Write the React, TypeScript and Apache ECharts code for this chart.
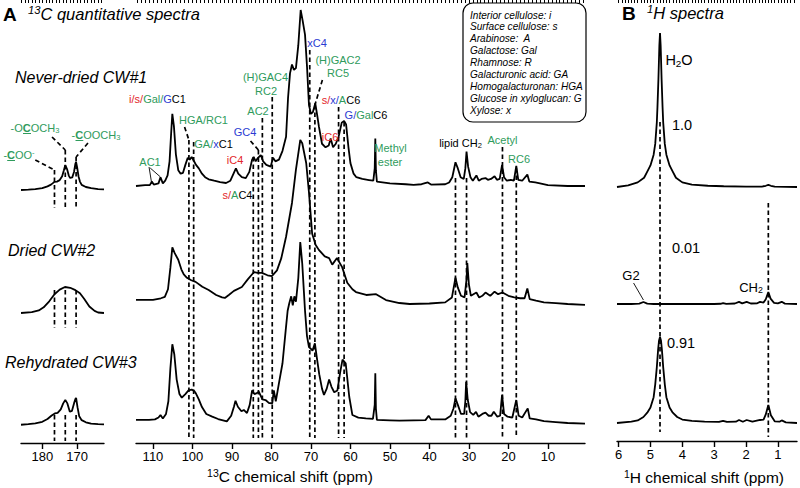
import React, { useEffect, useRef } from "react";
import * as echarts from "echarts";

// ---------------- data: [ppm, relative intensity %] ----------------
const neverDried13C = [
  [114.3, 0], [112, 0.5], [110.8, 0.5], [110.3, 2.5], [109.8, 0.8], [108.6, 1.5], [108.1, 5], [107.5, 1.5], [106.9, 3],
  [106.3, 6], [105.8, 14], [105.4, 30], [105.1, 41], [104.7, 34], [104.2, 18], [103.6, 9], [103, 7], [102.4, 7.5],
  [101.8, 12], [101.2, 16], [100.7, 15], [100.2, 16.5], [99.7, 14.5], [99.1, 12], [98.4, 10], [97.6, 7], [96.8, 5],
  [95.9, 3.8], [94.5, 3], [93, 2.2], [91.5, 1.7], [90.4, 3], [89.6, 7], [89, 10], [88.4, 7], [87.5, 5], [86.5, 4.5],
  [85.6, 8], [84.9, 15], [84.5, 16.5], [84, 14], [83.4, 16], [82.7, 17.6], [82.1, 14], [81.3, 12], [80.2, 11],
  [79.6, 16], [79, 14], [78.1, 15], [77.2, 20], [76.3, 28], [75.8, 50], [75.3, 64], [74.8, 69], [74.3, 66],
  [73.8, 67], [73.2, 80], [72.6, 100], [72.1, 94], [71.5, 86], [71, 68], [70.5, 46], [70, 41], [69.5, 42],
  [68.9, 47], [68.4, 40], [68, 34], [67.2, 24], [66.3, 22], [65.5, 23], [65, 27], [64.4, 22], [63.7, 24], [63, 28],
  [62.2, 36], [61.6, 37], [61.1, 35], [60.5, 22], [60, 13], [59.2, 7], [58.5, 5], [57, 4], [55.3, 3.4], [54.2, 3],
  [53.85, 10], [53.7, 27], [53.55, 9], [53.3, 2.5], [50, 1.5], [46, 1], [44, 0.6], [42, 1], [40.4, 2], [39.6, 0.8],
  [36, 1], [35, 2], [34.2, 5], [33.4, 13.5], [32.8, 10], [32.1, 5], [31.3, 4], [30.9, 10], [30.6, 19.5], [30.2, 11],
  [29.6, 5], [29, 3], [28.1, 6], [27.5, 3], [26.8, 4], [25.8, 4.5], [25.2, 3.5], [24.4, 4], [23.5, 5.5], [22.9, 3.5],
  [22.2, 4], [21.6, 12], [21.1, 5], [20.4, 3], [19.4, 3.5], [18.6, 3], [18, 11.4], [17.5, 3.5], [16.5, 3],
  [15.2, 6.5], [14.7, 2.5], [13.2, 2], [12, 1.5], [10, 0.5], [5, 0], [0.6, 0],
];
const dried13C = [
  [114.3, 2.5], [110, 2.5], [108, 3.5], [107, 4.3], [106.2, 9], [105.6, 22], [105.1, 34.5], [104.5, 31], [103.6, 27],
  [102.8, 21], [102.2, 18], [101.4, 16], [100.3, 14.5], [99.2, 13.5], [97.5, 10.5], [95.9, 8.5], [94, 5.5],
  [92.5, 4], [91.8, 3.7], [90.8, 5.5], [89.5, 8], [87.5, 10.4], [86, 15], [84.4, 19.5], [83.5, 19], [82.4, 19],
  [81, 17.5], [79.9, 17], [78.6, 20.5], [77.5, 28], [76.3, 41], [74.8, 61.6], [73.8, 82], [73, 95], [72.7, 100],
  [72.2, 98], [71.2, 86], [70.5, 68], [69.7, 43], [68.8, 36], [68, 33], [66.5, 29], [65.4, 28], [64.6, 24],
  [63.4, 28], [62.1, 22.5], [60.8, 13], [59.5, 9], [58.6, 7.3], [56, 5.5], [53.5, 6], [51, 2.4], [47.6, 0.6],
  [45, 0], [40, 0.3], [36, 1], [34.3, 4], [33.4, 16], [32.8, 10], [32, 5], [31.1, 4], [30.6, 15], [30.4, 25],
  [30, 12], [29.5, 5], [28.1, 7], [27.4, 4], [26.6, 5], [25.8, 7], [24.6, 5], [23.5, 7.5], [22.6, 6], [21.5, 7],
  [20, 5], [18.5, 4], [17, 3.5], [15.9, 3.5], [15.2, 9.5], [14.6, 3], [13, 2], [11, 1], [8, 0.5], [5, 0], [0.6, -0.5],
];
const rehydrated13C = [
  [114.3, 1.7], [111, 1.7], [109.5, 2], [108.6, 3], [108.1, 4.4], [107.5, 2.5], [106.7, 5], [106.1, 12], [105.6, 30],
  [105.1, 43.5], [104.6, 38], [104, 24], [103.3, 16], [102.7, 14], [101.8, 16], [101, 18], [100.2, 18.5],
  [99.5, 17.5], [99.2, 16.6], [98.4, 13], [97.6, 8.8], [96.5, 5], [95, 3.5], [93.5, 2.2], [91.3, 0.9], [90.2, 4],
  [89.5, 9], [89.1, 12.3], [88.5, 9], [87.6, 6.5], [87, 7.2], [86.2, 5.5], [85.5, 10], [84.9, 18], [84.3, 16],
  [83.7, 16.5], [83.2, 17.3], [82.3, 13], [81.5, 12.7], [80.6, 11], [79.8, 10.9], [79.4, 18], [78.9, 12],
  [78.1, 22], [77.2, 33], [76.4, 51], [75.9, 62], [75.5, 66], [75, 70], [74.6, 65], [74.2, 70], [73.8, 67],
  [73.2, 80], [72.7, 100], [72.2, 88], [71.5, 62], [71, 48], [70.5, 42], [70, 41], [69.6, 40], [69, 44],
  [68.5, 36], [67.9, 27], [67.2, 19], [66.7, 15.5], [66, 19], [65.4, 24], [64.8, 20], [64.1, 17], [63.3, 18],
  [62.6, 28], [62, 35], [61.2, 33], [60.3, 14.5], [59.5, 4.4], [58, 3], [56.1, 2.6], [54.3, 2.3], [53.85, 10],
  [53.7, 27.5], [53.55, 8], [53.3, 1.7], [50, 1.5], [47.6, 1.3], [44, 1.5], [41, 1.6], [40.2, 4], [39.6, 2],
  [36, 2], [34.6, 4], [33.9, 8], [33.4, 13.6], [32.8, 10], [32, 5], [31.2, 5], [30.9, 12], [30.7, 22.8],
  [30.3, 13], [29.7, 6], [28.9, 4.5], [28.2, 6.2], [27.6, 3.5], [26.6, 5], [25.8, 5.7], [25, 4], [24.3, 4],
  [23.7, 6.2], [22.8, 3.5], [22.1, 4], [21.6, 15.5], [21.1, 5], [20.2, 3.5], [19, 3], [18, 12.7], [17.4, 4],
  [16.5, 3], [15.1, 8.1], [14.6, 2.5], [13, 2], [11, 1], [8, 0.5], [5, 0], [0.6, -0.3],
];
const neverDriedCOO = [
  [186.1, 0], [184, 1], [182, 3], [180, 6], [178.5, 12], [177.5, 18], [176.5, 27], [175.8, 28], [175, 33],
  [174.3, 46], [173.8, 66], [173.4, 83], [172.9, 70], [172.4, 48], [172, 40], [171.4, 42], [170.9, 60],
  [170.5, 88], [170.3, 93], [170, 75], [169.6, 45], [169.2, 28], [168.7, 17], [167.5, 10], [166, 6], [164, 3],
  [162.3, 2],
];
const driedCOO = [
  [186.1, 0], [183, 3], [181, 10], [179.6, 22], [178, 45], [176.5, 72], [175, 90], [173.5, 100], [172, 97],
  [170.5, 88], [169.2, 76], [168, 55], [166.5, 25], [165, 8], [164, 2], [162.3, 0],
];
const rehydratedCOO = [
  [186.1, 1], [184, 3], [182, 6], [180, 12], [178.5, 22], [177.3, 35], [176.4, 43], [175.6, 45], [174.7, 58],
  [174, 80], [173.4, 93], [172.8, 80], [172.1, 49], [171.5, 52], [170.9, 80], [170.5, 96], [170.3, 100],
  [169.9, 66], [169.4, 32], [168.7, 18], [167.5, 10], [166, 5], [164, 3], [162.3, 2],
];
const neverDried1H = [
  [6.05, 0], [5.7, 1], [5.4, 3], [5.2, 6], [5.1, 10], [5.0, 14], [4.9, 21], [4.85, 28], [4.8, 42], [4.78, 52],
  [4.75, 70], [4.72, 92], [4.7, 100], [4.68, 92], [4.65, 70], [4.62, 52], [4.6, 42], [4.55, 28], [4.5, 21],
  [4.4, 14], [4.3, 10], [4.2, 6], [4.0, 3], [3.7, 1.5], [3.2, 0.8], [2.7, 0.5], [2.0, 0.3], [1.5, 0.3],
  [1.38, 0.8], [1.3, 1.4], [1.22, 0.8], [1.1, 0.2], [0.4, 0],
];
const dried1H = [
  [6.05, 0], [5.6, 0], [5.35, 3], [5.22, 17], [5.1, 3], [4.9, 0], [3.0, 0], [2.8, 2], [2.72, 8], [2.62, 1],
  [2.35, 4], [2.22, 18], [2.12, 5], [1.98, 18], [1.85, 4], [1.65, 6], [1.56, 18], [1.45, 12], [1.38, 40],
  [1.3, 100], [1.23, 45], [1.12, 10], [1.0, 5], [0.88, 18], [0.78, 3], [0.4, 0],
];
const rehydrated1H = [
  [6.05, 0], [5.6, 1.5], [5.4, 3], [5.22, 7], [5.1, 12], [5.0, 18], [4.9, 30], [4.85, 45], [4.8, 65], [4.76, 85],
  [4.73, 96], [4.7, 100], [4.67, 96], [4.64, 85], [4.6, 65], [4.55, 45], [4.5, 30], [4.4, 18], [4.3, 12],
  [4.16, 7], [4.0, 4], [3.7, 2.5], [3.3, 1.5], [2.85, 1.2], [2.72, 2.5], [2.6, 1.2], [2.32, 1.5], [2.22, 3.5],
  [2.1, 1.5], [1.98, 3.5], [1.8, 1.5], [1.56, 3.5], [1.45, 4], [1.38, 10], [1.3, 21], [1.22, 9], [1.1, 2],
  [0.95, 1.5], [0.88, 3], [0.75, 0.8], [0.4, 0],
];

const carbonTicks = [110, 100, 90, 80, 70, 60, 50, 40, 30, 20, 10];
const carboxylTicks = [180, 170];
const protonTicks = [6, 5, 4, 3, 2, 1];

const carbonAssignPpm = [100.9, 99.7, 84.6, 83.3, 82.3, 79.8, 70.3, 69.0, 63.0, 61.6, 33.4, 30.6, 21.5, 18.0];
const carboxylAssignPpm = [176.5, 173.4, 170.3];
const protonAssignPpm = [4.7, 1.3];
const waterRatios = ["1.0", "0.01", "0.91"];
const sampleNames = ["Never-dried CW#1", "Dried CW#2", "Rehydrated CW#3"];
const legendLines = [
  "Interior cellulose: i", "Surface cellulose: s", "Arabinose:  A", "Galactose: Gal", "Rhamnose: R",
  "Galacturonic acid: GA", "Homogalacturonan: HGA", "Glucose in xyloglucan: G", "Xylose: x",
];

// ---------------- layout / style ----------------
const F = "'Liberation Sans', Arial, Helvetica, sans-serif";
const RED = "#e3262b";
const GREEN = "#2f9b5c";
const BLUE = "#2b3bd2";

const MAIN = { left: 136, width: 449, min: 0.6, max: 114.3, axisY: 443, grids: [[10, 176], [140, 164], [242, 181]] };
const COO = { left: 21, width: 83, min: 162.3, max: 186.1, axisY: 443, grids: [[160, 30], [287, 26], [398, 27]] };
const PROTON = { left: 617, width: 180, min: 0.4, max: 6.05, axisY: 441, grids: [[33, 154], [292, 12], [337, 86]] };

function rs(fill: string, size: number, extra: any = {}) {
  return { fill, color: fill, fontSize: size, fontFamily: F, lineHeight: Math.round(size * 1.15), ...extra };
}
function richFor(size: number) {
  const small = Math.round(size * 0.68 * 10) / 10;
  const sub = { fontSize: small, lineHeight: 6, verticalAlign: "bottom" };
  const sup = { fontSize: small, lineHeight: 6, verticalAlign: "top" };
  return {
    k: rs("#000", size), r: rs(RED, size), g: rs(GREEN, size), b: rs(BLUE, size),
    kb: rs("#000", size, { fontWeight: "bold" }),
    gb: rs(GREEN, size, { fontWeight: "bold" }),
    ki: rs("#000", size, { fontStyle: "italic" }),
    kisup: rs("#000", size, { fontStyle: "italic", ...sup }),
    ksup: rs("#000", size, sup),
    gsup: rs(GREEN, size, sup),
    ks: rs("#000", size, sub),
    gs: rs(GREEN, size, sub),
  };
}
function lab(x: number, y: number, text: string, size: number, align = "center") {
  return {
    type: "text", x, y, silent: true, z: 20,
    style: {
      text, rich: richFor(size), fontSize: size, fontFamily: F, fill: "#000",
      align, textAlign: align, verticalAlign: "middle", textVerticalAlign: "middle",
    },
  };
}
function underline(x1: number, x2: number, y: number) {
  return {
    type: "line", silent: true, z: 20,
    shape: { x1, y1: y, x2, y2: y },
    style: { stroke: GREEN, lineWidth: 1 },
  };
}

function buildOption() {
  const grid: any[] = [];
  const xAxis: any[] = [];
  const yAxis: any[] = [];
  const series: any[] = [];

  function panel(p: any, spectra: number[][][], ticks: number[], minorFrom: number, minorTo: number, step: number) {
    const gi = grid.length;
    grid.push({ left: p.left, width: p.width, top: 0, height: p.axisY });
    const minor: number[] = [];
    for (let v = minorFrom; v <= minorTo + 1e-9; v += step) minor.push(Math.round(v * 100) / 100);
    xAxis.push({
      gridIndex: gi, type: "value", min: p.min, max: p.max, inverse: true,
      axisLine: { show: false }, splitLine: { show: false }, axisLabel: { show: false },
      axisTick: { show: true, customValues: minor, length: 3, lineStyle: { color: "#000", width: 1 } },
    });
    yAxis.push({ gridIndex: gi, type: "value", min: 0, max: p.axisY, inverse: true, show: false });
    const ov = { xi: xAxis.length - 1, yi: yAxis.length - 1 };
    spectra.forEach((data, k) => {
      const [top, height] = p.grids[k];
      const g = grid.length;
      grid.push({ left: p.left, width: p.width, top, height });
      const bottom = k === spectra.length - 1;
      xAxis.push({
        gridIndex: g, type: "value", min: p.min, max: p.max, inverse: true, show: bottom,
        offset: bottom ? p.axisY - top - height : 0,
        axisLine: { show: true, onZero: false, lineStyle: { color: "#000", width: 1.4 } },
        axisTick: { show: true, customValues: ticks, length: 6, lineStyle: { color: "#000", width: 1.4 } },
        axisLabel: { show: true, customValues: ticks, margin: 7, fontSize: 13, color: "#000", fontFamily: F },
        splitLine: { show: false },
      });
      yAxis.push({ gridIndex: g, type: "value", min: 0, max: 100, show: false });
      series.push({
        type: "line", xAxisIndex: xAxis.length - 1, yAxisIndex: yAxis.length - 1, data,
        symbol: "none", clip: false, silent: true, z: 3,
        lineStyle: { color: "#000", width: 1.8 },
      });
    });
    return ov;
  }
  function seg(ov: any, pts: number[][], dashed = true, width = 1.7) {
    series.push({
      type: "line", xAxisIndex: ov.xi, yAxisIndex: ov.yi, data: pts, symbol: "none", clip: false, silent: true, z: 2,
      lineStyle: { color: "#000", width, type: dashed ? [4.5, 3] : "solid" },
    });
  }

  const ovMain = panel(MAIN, [neverDried13C, dried13C, rehydrated13C], carbonTicks, 1, 114, 1);
  const ovCoo = panel(COO, [neverDriedCOO, driedCOO, rehydratedCOO], carboxylTicks, 163, 186, 1);
  const ovH = panel(PROTON, [neverDried1H, dried1H, rehydrated1H], protonTicks, 0.5, 6.0, 0.1);

  // assignment lines, 13C main region
  const carbonDashTop = [140, 142, 157, 150, 118, 97, 50, 105, 107, 122, 178, 178, 147, 168];
  carbonAssignPpm.forEach((ppm, i) => seg(ovMain, [[ppm, carbonDashTop[i]], [ppm, 438]]));
  seg(ovMain, [[102.0, 127], [100.9, 140]]);
  seg(ovMain, [[85.3, 141], [83.3, 150]]);
  seg(ovMain, [[67.1, 80], [69.0, 105]]);
  seg(ovMain, [[111.0, 167], [110.3, 184]], false, 0.9);
  seg(ovMain, [[110.7, 168], [108.1, 177]], false, 0.9);

  // carboxyl region
  const cooTopStart = [170, 150, 157];
  carboxylAssignPpm.forEach((ppm, i) => {
    seg(ovCoo, [[ppm, cooTopStart[i]], [ppm, 208]]);
    seg(ovCoo, [[ppm, 290], [ppm, 328]]);
    seg(ovCoo, [[ppm, 415], [ppm, 441]]);
  });
  seg(ovCoo, [[182.0, 160], [176.5, 170]]);
  seg(ovCoo, [[177.2, 137], [173.4, 150]]);
  seg(ovCoo, [[166.9, 143], [170.3, 157]]);

  // 1H
  seg(ovH, [[protonAssignPpm[0], 122], [protonAssignPpm[0], 432]]);
  seg(ovH, [[protonAssignPpm[1], 203], [protonAssignPpm[1], 437]]);
  seg(ovH, [[5.53, 283], [5.22, 300]], false, 0.9);

  const sampleY = [77, 250, 362];
  const sampleX = [15, 8, 5];
  const ratioPos = [[682, 125], [686, 248], [681, 343]];

  const elements: any[] = [
    lab(3, 14, "{kb|A}", 19, "left"),
    lab(28, 14, "{kisup|13}{ki|C quantitative spectra}", 16.5, "left"),
    lab(622, 13, "{kb|B}", 19, "left"),
    lab(647, 13, "{kisup|1}{ki|H spectra}", 16.5, "left"),
    ...sampleNames.map((s, i) => lab(sampleX[i], sampleY[i], `{ki|${s}}`, 16, "left")),
    // legend box
    {
      type: "rect", silent: true, z: 5,
      shape: { x: 463, y: 3, width: 123, height: 119, r: 10 },
      style: { fill: "#fff", stroke: "#000", lineWidth: 1.2 },
    },
    ...legendLines.map((s, i) => lab(470, 15 + i * 11.9, `{ki|${s}}`, 10.1, "left")),
    // 13C annotations
    lab(157.5, 99, "{r|i/s/}{g|Gal/}{b|G}{k|C1}", 11),
    lab(203.5, 120, "{g|HGA/RC1}", 11),
    lab(213.5, 144, "{g|GA/}{b|x}{k|C1}", 11),
    lab(150, 162, "{g|AC1}", 11),
    lab(235, 160, "{r|iC4}", 11),
    lab(245, 132, "{b|GC4}", 11),
    lab(258, 111, "{g|AC2}", 11),
    lab(265.5, 77, "{g|(H)GAC4}", 11),
    lab(266, 91, "{g|RC2}", 11),
    lab(237.5, 195, "{r|s/}{g|A}{k|C4}", 11),
    lab(317, 43, "{b|xC4}", 11),
    lab(338, 60, "{g|(H)GAC2}", 11),
    lab(338, 73, "{g|RC5}", 11),
    lab(341, 100, "{r|s/}{b|x/}{g|A}{k|C6}", 11),
    lab(366, 115, "{b|G/}{g|Gal}{k|C6}", 11),
    lab(330, 137, "{r|iC6}", 11),
    lab(390.5, 148, "{g|Methyl}", 11),
    lab(390, 162, "{g|ester}", 11),
    lab(460.5, 143, "{k|lipid CH}{ks|2}", 11),
    lab(502.5, 140, "{g|Acetyl}", 11),
    lab(519, 159, "{g|RC6}", 11),
    // carboxyl annotations
    lab(35, 128, "{g|-O}{gb|C}{g|OCH}{gs|3}", 11),
    lab(96, 135, "{g|-}{gb|C}{g|OOCH}{gs|3}", 11),
    lab(19, 155, "{g|-}{gb|C}{g|OO}{gsup|-}", 11),
    underline(23, 31, 133.5),
    underline(75.5, 83.3, 140.5),
    underline(7.2, 15, 160.5),
    // 1H annotations
    lab(679, 60, "{k|H}{ks|2}{k|O}", 14.5),
    ...waterRatios.map((s, i) => lab(ratioPos[i][0], ratioPos[i][1], `{k|${s}}`, 14.5)),
    lab(631, 275, "{k|G2}", 13),
    lab(751, 287, "{k|CH}{ks|2}", 13),
    // axis names
    lab(290, 476, "{ksup|13}{k|C chemical shift (ppm)}", 15.5),
    lab(704, 477, "{ksup|1}{k|H chemical shift (ppm)}", 15.5),
  ];

  return {
    animation: false,
    backgroundColor: "#fff",
    grid, xAxis, yAxis, series,
    graphic: { elements },
  };
}

export default function App() {
  const ref = useRef<HTMLDivElement>(null);
  useEffect(() => {
    if (!ref.current) return;
    const chart = echarts.init(ref.current, undefined, { renderer: "svg" });
    chart.setOption(buildOption() as any);
    return () => chart.dispose();
  }, []);
  return (
    <div
      ref={ref}
      style={{ position: "fixed", left: 0, top: 0, width: 800, height: 488, background: "#fff" }}
    />
  );
}
